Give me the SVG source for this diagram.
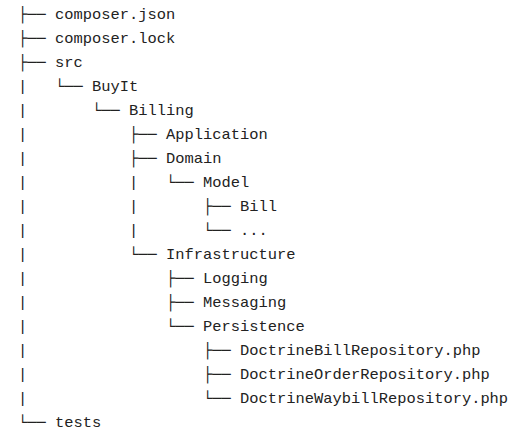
<svg xmlns="http://www.w3.org/2000/svg" width="526" height="436" viewBox="0 0 526 436">
<style>
text{font-family:"Liberation Mono","DejaVu Sans Mono",monospace;font-size:15.42px;fill:#222}
</style>
<rect width="526" height="436" fill="#fff"/>
<g id="connectors">
<text x="18" y="19">├──</text>
<text x="18" y="43">├──</text>
<text x="18" y="67">├──</text>
<text x="18" y="91">|</text><text x="55" y="91">└──</text>
<text x="18" y="115">|</text><text x="92" y="115">└──</text>
<text x="18" y="139">|</text><text x="129" y="139">├──</text>
<text x="18" y="163">|</text><text x="129" y="163">├──</text>
<text x="18" y="187">|</text><text x="129" y="187">|</text><text x="166" y="187">└──</text>
<text x="18" y="211">|</text><text x="129" y="211">|</text><text x="203" y="211">├──</text>
<text x="18" y="235">|</text><text x="129" y="235">|</text><text x="203" y="235">└──</text>
<text x="18" y="259">|</text><text x="129" y="259">└──</text>
<text x="18" y="283">|</text><text x="166" y="283">├──</text>
<text x="18" y="307">|</text><text x="166" y="307">├──</text>
<text x="18" y="331">|</text><text x="166" y="331">└──</text>
<text x="18" y="355">|</text><text x="203" y="355">├──</text>
<text x="18" y="379">|</text><text x="203" y="379">├──</text>
<text x="18" y="403">|</text><text x="203" y="403">└──</text>
<text x="18" y="427">└──</text>
</g>
<g id="composer-json"><text x="55" y="19">composer.json</text></g>
<g id="composer-lock"><text x="55" y="43">composer.lock</text></g>
<g id="src"><text x="55" y="67">src</text></g>
<g id="buyit"><text x="92" y="91">BuyIt</text></g>
<g id="billing"><text x="129" y="115">Billing</text></g>
<g id="application"><text x="166" y="139">Application</text></g>
<g id="domain"><text x="166" y="163">Domain</text></g>
<g id="model"><text x="203" y="187">Model</text></g>
<g id="bill"><text x="240" y="211">Bill</text></g>
<g id="ellipsis"><text x="240" y="235">...</text></g>
<g id="infrastructure"><text x="166" y="259">Infrastructure</text></g>
<g id="logging"><text x="203" y="283">Logging</text></g>
<g id="messaging"><text x="203" y="307">Messaging</text></g>
<g id="persistence"><text x="203" y="331">Persistence</text></g>
<g id="doctrine-bill"><text x="240" y="355">DoctrineBillRepository.php</text></g>
<g id="doctrine-order"><text x="240" y="379">DoctrineOrderRepository.php</text></g>
<g id="doctrine-waybill"><text x="240" y="403">DoctrineWaybillRepository.php</text></g>
<g id="tests"><text x="55" y="427">tests</text></g>
</svg>
